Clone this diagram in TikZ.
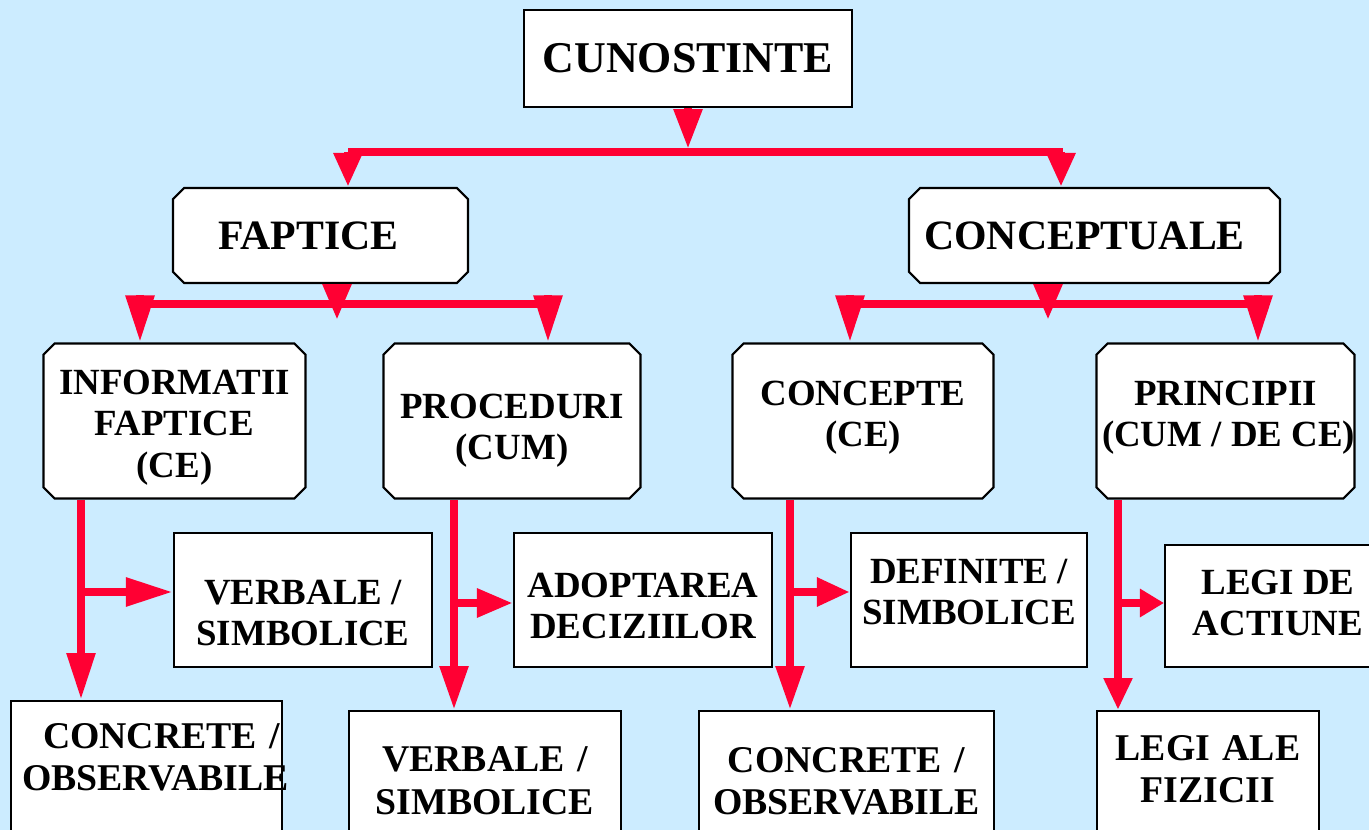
\documentclass[tikz,border=0pt]{standalone}
\usepackage{fontspec}
\setmainfont{Liberation Serif}
\usetikzlibrary{arrows.meta,shapes.misc}

\definecolor{skyback}{RGB}{204,236,255}
\definecolor{linkred}{RGB}{255,0,51}

% fixed size text block: width, height, top gap, lines
\newcommand{\boxtxt}[4]{\parbox[c][#2][t]{#1}{\centering\vspace*{#3}#4}}

\tikzset{
  box/.style={draw=black, line width=1.2pt, fill=white, align=center,
    font=\bfseries\fontsize{21}{23.5}\selectfont, inner sep=0pt},
  cutbox/.style={box, chamfered rectangle, chamfered rectangle sep=1.1mm},
  bigfont/.style={font=\bfseries\fontsize{23.8}{26}\selectfont},
  lowbox/.style={box, anchor=north, text depth=30mm, inner xsep=2.2mm,
    font=\bfseries\fontsize{21.5}{24}\selectfont},
  flowline/.style={draw=linkred, line width=1.7mm},
  redtip/.style={flowline, -{Triangle[width=5.4mm,length=#1]}},
  redtip/.default=9.4mm,
}

\begin{document}
\begin{tikzpicture}[x=0.02cm,y=-0.02cm]
  \useasboundingbox (0,0) rectangle (1369,830);
  \fill[skyback] (0,0) rectangle (1369,830);
  \clip (0,0) rectangle (1369,830);

  % Set up the boxes (top and middle levels)
  \node[box, minimum width=65.6mm, minimum height=19.4mm,
    font=\bfseries\fontsize{25}{28}\selectfont] (cun) at (688,58.5) {CUNOSTINTE};
  \node[cutbox, bigfont, minimum width=59mm, minimum height=19mm] (fap) at (320.5,235.5) {FAPTICE\hspace*{4.8mm}};
  \node[cutbox, bigfont, minimum width=74.2mm, minimum height=19mm] (con) at (1094.5,235.5) {CONCEPTUALE\hspace*{4mm}};

  \node[cutbox, minimum width=52.2mm, minimum height=30.8mm] (info) at (174.5,421)
    {\boxtxt{50.2mm}{28.8mm}{4.2mm}{INFORMATII\\FAPTICE\\(CE)}};
  \node[cutbox, minimum width=51.2mm, minimum height=30.8mm] (proc) at (512,421)
    {\boxtxt{49.2mm}{28.8mm}{9mm}{PROCEDURI\\(CUM)}};
  \node[cutbox, minimum width=52mm, minimum height=30.8mm] (cpt) at (863,421)
    {\boxtxt{50mm}{28.8mm}{6.4mm}{CONCEPTE\\(CE)}};
  \node[cutbox, minimum width=51.4mm, minimum height=30.8mm] (prin) at (1225.5,421)
    {\boxtxt{49.4mm}{28.8mm}{6.4mm}{PRINCIPII\\\mbox{(CUM / DE CE)}}};

  \node[box] (vrb1) at (303,600) {\boxtxt{51.6mm}{26.8mm}{9.4mm}{VERBALE /\\SIMBOLICE}};
  \node[box] (adop) at (643,600) {\boxtxt{51.6mm}{26.8mm}{8mm}{ADOPTAREA\\DECIZIILOR}};
  \node[box] (defi) at (969,600) {\boxtxt{47.2mm}{26.8mm}{5.2mm}{DEFINITE /\\SIMBOLICE}};
  \node[box] (lact) at (1278,606) {\boxtxt{45.2mm}{24.4mm}{5mm}{LEGI DE\\ACTIUNE}};

  % Bottom boxes run off the page
  \node[lowbox, text width=49.8mm, inner ysep=4.4mm] (ccr1) at (146.5,700) {\mbox{\hspace{4.2mm}CONCRETE /}\\\mbox{OBSERVABILE}};
  \node[lowbox, text width=50mm, inner ysep=7.2mm] (vrb2) at (485,710) {VERBALE /\\SIMBOLICE};
  \node[lowbox, text width=54.6mm, inner ysep=7.2mm] (ccr2) at (846.5,710) {CONCRETE /\\OBSERVABILE};
  \node[lowbox, text width=40mm, inner ysep=4.8mm] (lfiz) at (1208,710) {LEGI ALE\\FIZICII};

  % Add the arrows
  \draw[redtip=8mm] (cun.south) -- ++(0,41);
  \draw[flowline] (348,152) -- (1063,152);
  \draw[redtip=6.8mm] (348,152) -- (fap.north -| 348,0);
  \draw[redtip=6.8mm] (1061,152) -- (con.north -| 1061,0);

  \draw[flowline] (140,304) -- (548,304);
  \draw[redtip=7.2mm] (fap.south -| 337,0) -- ++(0,36);
  \draw[redtip] (140,295) -- (info.north -| 140,0);
  \draw[redtip] (548,295) -- (proc.north -| 548,0);

  \draw[flowline] (850,304) -- (1258,304);
  \draw[redtip=7.2mm] (con.south -| 1048,0) -- ++(0,36);
  \draw[redtip] (850,295) -- (cpt.north -| 850,0);
  \draw[redtip] (1258,295) -- (prin.north -| 1258,0);

  \draw[redtip] (info.south -| 81,0) -- (ccr1.north -| 81,0);
  \draw[redtip] (81,592) -- (vrb1.west |- 0,592);
  \draw[redtip=8.8mm] (proc.south -| 454,0) -- (vrb2.north -| 454,0);
  \draw[redtip=7.2mm] (454,603) -- (adop.west |- 0,603);
  \draw[redtip=8.8mm] (cpt.south -| 790,0) -- (ccr2.north -| 790,0);
  \draw[redtip=6.6mm] (790,592) -- (defi.west |- 0,592);
  \draw[redtip=6.4mm] (prin.south -| 1118,0) -- (lfiz.north -| 1118,0);
  \draw[redtip=4.8mm] (1118,603) -- (lact.west |- 0,603);
\end{tikzpicture}
\end{document}
